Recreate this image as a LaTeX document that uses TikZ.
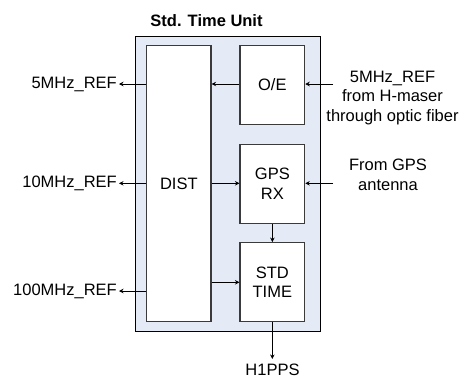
\documentclass[tikz,border=0pt]{standalone}
\usepackage{fontspec}
\setmainfont{Liberation Sans}
\usetikzlibrary{arrows.meta}
\definecolor{unitfill}{HTML}{E5EBF6}
\definecolor{blockline}{HTML}{3A3A3A}
\tikzset{
  lbl/.style={font=\fontsize{16.5}{19.5}\selectfont, inner sep=2pt},
  block/.style={draw=blockline, line width=1.1pt, fill=white, minimum width=64.7pt,
    minimum height=79pt, inner sep=0pt, align=center, lbl},
  sig/.style={draw=black, line width=0.8pt, -{Stealth[length=4.5pt,width=4.5pt]}},
}
\begin{document}
\begin{tikzpicture}[x=1pt,y=-1pt]
  \useasboundingbox (0,0) rectangle (461,378);

  % enclosing unit
  \node[draw=black, line width=0.9pt, fill=unitfill, minimum width=185.4pt,
        minimum height=295.5pt, inner sep=0pt] (unit) at (228,183.75) {};
  \node[lbl, font=\fontsize{16.5}{19.5}\selectfont\bfseries] (title) at (206.5,21) {Std. Time Unit};

  % internal blocks
  \node[block, minimum width=64.3pt, minimum height=276.2pt] (dist) at (178.85,183.6) {DIST};
  \node[block] (oe)  at (272.35,85)    {O/E};
  \node[block] (gps) at (272.35,183.8) {GPS\\RX};
  \node[block] (std) at (272.35,282.1) {STD\\TIME};

  % output ends
  \coordinate (o5)   at (119,84);
  \coordinate (o10)  at (119,183.3);
  \coordinate (o100) at (119,291);
  \coordinate (opps) at (272.35,359);
  % input ends
  \coordinate (imaser) at (333,84);
  \coordinate (igps)   at (333,183.3);

  \node[lbl, anchor=east] (l5)   at (o5)   {5MHz\_REF};
  \node[lbl, anchor=east] (l10)  at (o10)  {10MHz\_REF};
  \node[lbl, anchor=east] (l100) at (o100) {100MHz\_REF};
  \node[lbl, anchor=base] (lpps) at (272.5,375.5) {H1PPS};
  \node[lbl, align=center] (lmaser) at (392.5,98) {5MHz\_REF\\from H-maser\\through optic fiber};
  \node[lbl, align=center] (lgps)   at (388,175)  {From GPS\\antenna};

  % connectors
  \draw[sig] (dist.west |- o5)   -- (o5);
  \draw[sig] (dist.west |- o10)  -- (o10);
  \draw[sig] (dist.west |- o100) -- (o100);
  \draw[sig] (oe.west |- o5) -- (dist.east |- o5);
  \draw[sig] (imaser) -- (oe.east |- imaser);
  \draw[sig] (igps) -- (gps.east |- igps);
  \draw[sig] (dist.east |- o10) -- (gps.west |- o10);
  \draw[sig] (dist.east |- 0,282.3) -- (std.west |- 0,282.3);
  \draw[sig] (gps.south) -- (std.north);
  \draw[sig] (std.south) -- (opps);
\end{tikzpicture}
\end{document}
